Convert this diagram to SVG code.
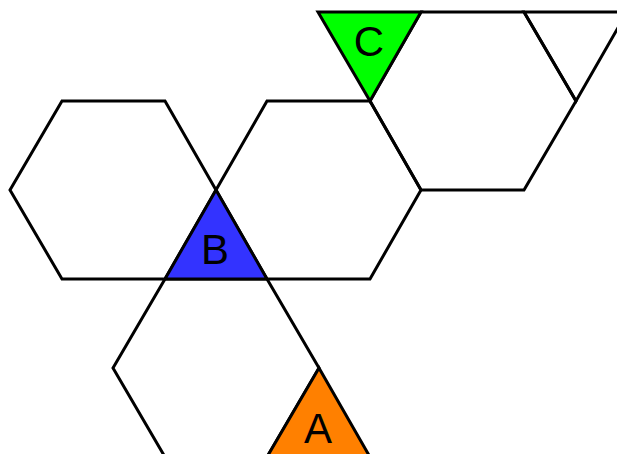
<svg xmlns="http://www.w3.org/2000/svg" width="617" height="454" viewBox="0 0 617 454">
<style>
.s{fill:none;stroke:#000;stroke-width:3;stroke-linejoin:miter}
.t{font-family:"Liberation Sans",Arial,sans-serif;font-size:42px;text-anchor:middle;fill:#000}
</style>
<rect width="617" height="454" fill="#fff"/>
<g id="hex1"><polygon class="s" points="62,101 165,101 216,190 165,279 62,279 10,190"/></g>
<g id="hex2"><polygon class="s" points="267,101 370,101 421,190 370,279 267,279 216,190"/></g>
<g id="hex3"><polygon class="s" points="421,12 524,12 576,101 524,190 421,190 370,101"/></g>
<g id="hex4"><polygon class="s" points="165,279 267,279 319,368 267,457 165,457 113,368"/></g>
<g id="tri-right"><polygon class="s" points="524,12 627,12 576,101"/></g>
<g id="C"><polygon class="s" style="fill:#00ff00" points="318,12 421,12 370,101"/><text class="t" x="369" y="56">C</text></g>
<g id="B"><polygon class="s" style="fill:#3333ff" points="216,190 165,279 267,279"/><text class="t" x="215" y="264">B</text></g>
<g id="A"><polygon class="s" style="fill:#ff8000" points="319,368 267,457 370,457"/><text class="t" x="318" y="443">A</text></g>
<g id="connectors"></g>
</svg>
